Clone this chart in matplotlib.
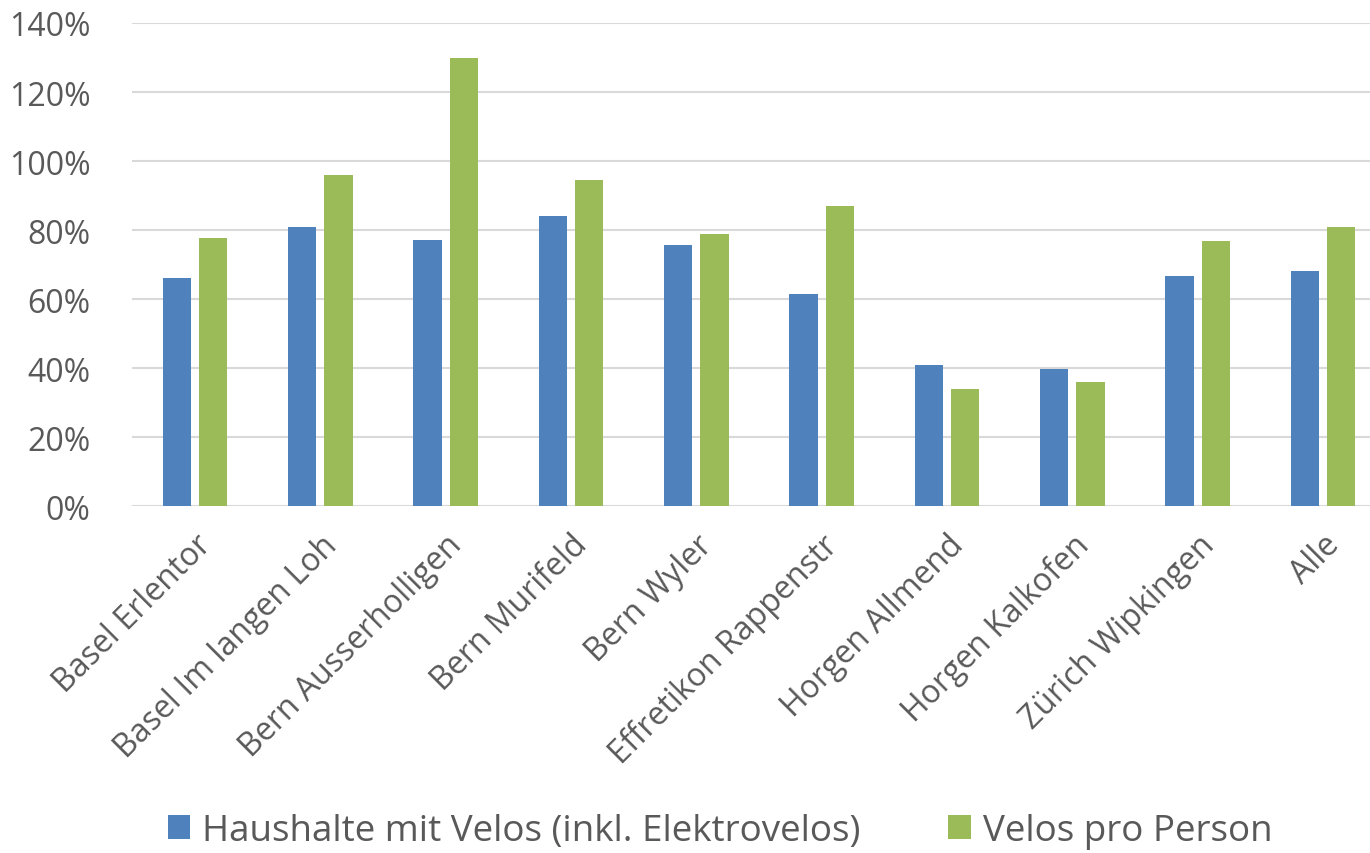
import numpy as np
import matplotlib.pyplot as plt
from matplotlib.ticker import FuncFormatter

# Daten
orte = ["Basel Erlentor", "Basel Im langen Loh", "Bern Ausserholligen", "Bern Murifeld",
        "Bern Wyler", "Effretikon Rappenstr", "Horgen Allmend", "Horgen Kalkofen",
        "Zürich Wipkingen", "Alle"]
haushalte = [66, 81, 77, 84.2, 75.6, 61.4, 40.8, 39.8, 66.6, 68.1]
velos_pro_person = [77.8, 95.8, 129.9, 94.4, 78.7, 86.9, 34.0, 35.9, 76.9, 80.9]
serien = ["Haushalte mit Velos (inkl. Elektrovelos)", "Velos pro Person"]

blau = "#4F81BD"
gruen = "#9BBB59"
grau = "#595959"

plt.rcParams['font.family'] = ['Open Sans', 'DejaVu Sans']

fig = plt.figure(figsize=(13.7, 8.54), dpi=100)
ax = fig.add_axes([0.0965, 0.4063, 0.915, 0.5656])

x = np.arange(len(orte))
w = 0.225
ax.bar(x - 0.145, haushalte, w, color=blau, label=serien[0], zorder=3)
ax.bar(x + 0.145, velos_pro_person, w, color=gruen, label=serien[1], zorder=3)

ax.set_xlim(-0.5, len(orte) - 0.5)
ax.set_ylim(0, 140)
ax.set_yticks(np.arange(0, 141, 20))
ax.yaxis.set_major_formatter(FuncFormatter(lambda v, p: f"{v:.0f}%"))
ax.yaxis.grid(True, color="#D9D9D9", linewidth=1.5, zorder=0)
ax.tick_params(axis='both', length=0, labelsize=23, colors=grau)
ax.tick_params(axis='y', pad=30)
ax.tick_params(axis='x', pad=16)

ax.set_xticks(x)
ax.set_xticklabels(orte, rotation=45, ha='right', va='top', rotation_mode='anchor')

for s in ax.spines.values():
    s.set_visible(False)

leg = fig.legend(loc='center', bbox_to_anchor=(0.5255, 0.026), ncol=2, frameon=False,
                 fontsize=26.5, labelcolor=grau, handlelength=0.6, handleheight=0.6,
                 handletextpad=0.33, columnspacing=2.4)

fig.savefig("out.png", dpi=100)
